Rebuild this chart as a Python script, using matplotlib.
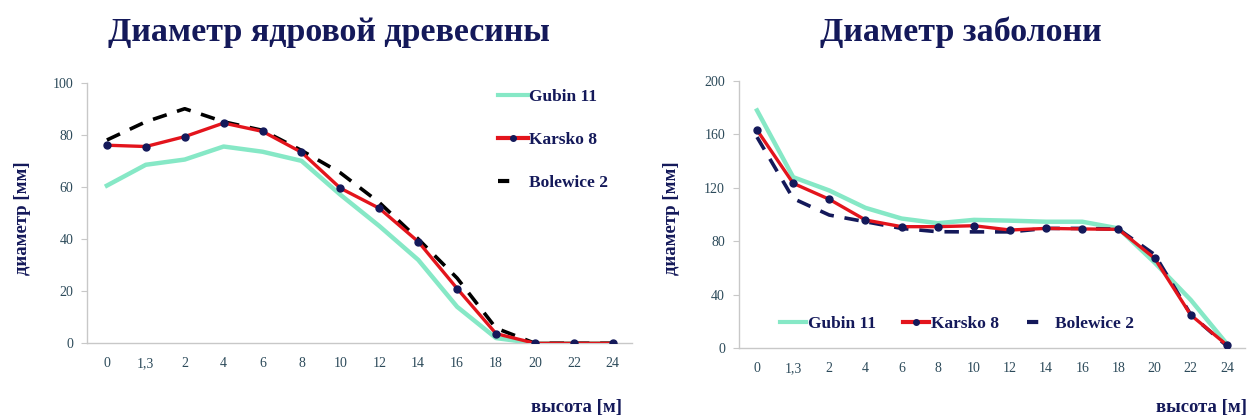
import matplotlib
matplotlib.use("Agg")
import matplotlib.pyplot as plt
from matplotlib.lines import Line2D
import numpy as np

# height categories along the stem [m]
heights = ["0", "1,3", "2", "4", "6", "8", "10", "12", "14", "16", "18", "20", "22", "24"]

# heartwood diameter [mm]
heart_gubin = [60.5, 68.5, 70.5, 75.5, 73.5, 70, 57, 45, 32, 14, 2, 0, 0, 0]
heart_karsko = [76, 75.5, 79.3, 84.5, 81.3, 73.3, 59.5, 51.8, 39, 21, 3.7, 0, 0, 0]
heart_bolewice = [78, 85, 90, 85, 81.7, 74, 65.4, 54, 40, 25, 5.8, 0, 0, 0]

# sapwood diameter [mm]
sap_gubin = [178, 128, 118, 105, 97, 93.5, 96, 95.4, 94.6, 94.6, 89.6, 64, 36, 3]
sap_karsko = [163.3, 123.4, 111.4, 95.9, 90.9, 90.9, 91.6, 88.4, 89.6, 89.2, 88.9, 67.2, 24.7, 2.2]
sap_bolewice = [158, 112, 99.6, 94.6, 89.6, 87.1, 87, 87, 89.6, 89.6, 89, 70, 25, 1.5]

NAVY = "#14195a"
TICK_COL = "#2c4a5a"
MINT = "#86e8c6"
RED = "#e3141c"
SERIF = "Liberation Serif"

plt.rcParams["font.family"] = SERIF

fig = plt.figure(figsize=(12.51, 4.19), dpi=100)
ax1 = fig.add_axes([0.0699, 0.1807, 0.4355, 0.622])
ax2 = fig.add_axes([0.5907, 0.1695, 0.4045, 0.637])

x = np.arange(len(heights))


def style_axes(ax, ymax, step):
    ax.set_xlim(-0.5, len(heights) - 0.5)
    ax.set_ylim(0, ymax)
    ax.set_yticks(np.arange(0, ymax + 1, step))
    ax.set_xticks(x)
    ax.set_xticklabels(heights)
    for side in ("top", "right"):
        ax.spines[side].set_visible(False)
    for side in ("left", "bottom"):
        ax.spines[side].set_color("#c8c8c8")
        ax.spines[side].set_linewidth(1.0)
    ax.tick_params(axis="y", length=4, color="#c8c8c8", labelsize=10, labelcolor=TICK_COL, pad=6)
    ax.tick_params(axis="x", length=0, labelsize=10, labelcolor=TICK_COL, pad=10)


def legend_handles(dash_color):
    # the dashed series shows up as a single short dash in the key
    return [
        Line2D([], [], color=MINT, lw=3),
        Line2D([], [], color=RED, lw=3, marker="o", ms=4, mfc=NAVY, mec=NAVY),
        Line2D([], [], color=dash_color, lw=3, ls=(0, (2.7, 12))),
    ]


labels = ["Gubin 11", "Karsko 8", "Bolewice 2"]
leg_font = {"family": SERIF, "weight": "bold", "size": 12.5}

# left panel: heartwood
ax1.plot(x, heart_gubin, color=MINT, lw=3.2, zorder=2)
ax1.plot(x, heart_bolewice, color="black", lw=2.6, ls=(0, (4, 3)), zorder=3)
ax1.plot(x, heart_karsko, color=RED, lw=2.4, marker="o", ms=5, mfc=NAVY, mec=NAVY, zorder=4)
style_axes(ax1, 100, 20)
ax1.legend(legend_handles("black"), labels, loc="upper left", bbox_to_anchor=(0.725, 1.035),
           frameon=False, handlelength=1.7, handletextpad=0.1, labelspacing=1.55,
           prop=leg_font, labelcolor=NAVY)

# right panel: sapwood
ax2.plot(x, sap_gubin, color=MINT, lw=3.2, zorder=2)
ax2.plot(x, sap_bolewice, color=NAVY, lw=2.6, ls=(0, (4, 3)), zorder=3)
ax2.plot(x, sap_karsko, color=RED, lw=2.4, marker="o", ms=5, mfc=NAVY, mec=NAVY, zorder=4)
style_axes(ax2, 200, 40)
ax2.legend(legend_handles(NAVY), labels, loc="lower left", bbox_to_anchor=(0.05, 0.0),
           ncol=3, frameon=False, handlelength=1.5, handletextpad=0.1, columnspacing=1.6,
           prop=leg_font, labelcolor=NAVY)

title_kw = dict(fontsize=24.5, fontweight="bold", color=NAVY, ha="center", va="center")
fig.text(0.263, 0.922, "Диаметр ядровой древесины", **title_kw)
fig.text(0.768, 0.922, "Диаметр заболони", **title_kw)

ylab_kw = dict(fontsize=13.5, fontweight="bold", color=NAVY, rotation=90, ha="center", va="center")
fig.text(0.018, 0.48, "диаметр [мм]", **ylab_kw)
fig.text(0.537, 0.48, "диаметр [мм]", **ylab_kw)

xlab_kw = dict(fontsize=13.5, fontweight="bold", color=NAVY, ha="right", va="center")
fig.text(0.497, 0.027, "высота [м]", **xlab_kw)
fig.text(0.997, 0.027, "высота [м]", **xlab_kw)

fig.savefig("out.png", dpi=100)
